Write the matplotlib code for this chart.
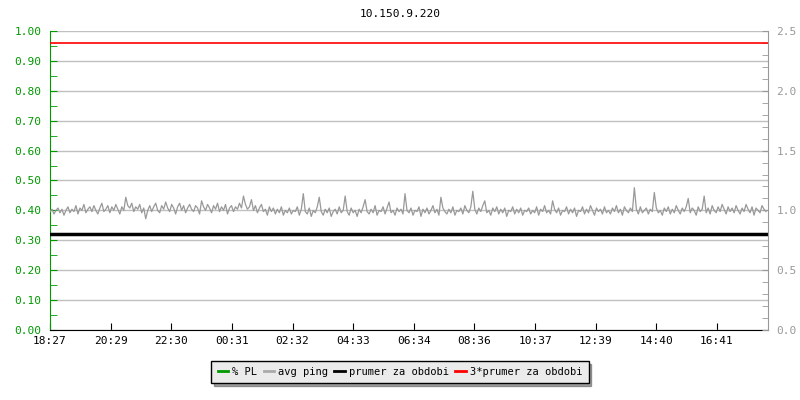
import numpy as np
import matplotlib
matplotlib.use("Agg")
import matplotlib.pyplot as plt
from matplotlib.lines import Line2D

title = "10.150.9.220"
time_labels = ["18:27", "20:29", "22:30", "00:31", "02:32", "04:33",
               "06:34", "08:36", "10:37", "12:39", "14:40", "16:41"]
tick_step_min = 121.27   # minutes between time labels
span_min = 1436          # whole window in minutes

# avg ping, one sample every 4 minutes (right axis units)
avg_ping = [
    0.99, 1.01, 0.97, 1.00, 1.02, 0.98, 1.01, 0.96, 1.00, 1.03, 0.98, 1.01, 0.99, 1.04, 0.97, 1.02, 1.00, 1.05, 0.98, 1.01,
    1.03, 0.99, 1.04, 1.00, 0.97, 1.02, 1.06, 0.99, 1.01, 1.04, 0.98, 1.03, 1.00, 1.05, 1.01, 0.97, 1.03, 1.00, 1.11, 1.04,
    1.02, 1.06, 0.99, 1.03, 1.01, 1.05, 0.98, 1.02, 0.93, 1.00, 1.04, 0.99, 1.03, 1.06, 1.00, 0.98, 1.04, 1.01, 1.07, 1.02,
    0.99, 1.05, 1.02, 0.97, 1.03, 1.06, 1.00, 1.04, 0.98, 1.02, 1.05, 1.01, 0.99, 1.04, 1.02, 0.97, 1.08, 1.03, 1.00, 1.05,
    1.02, 0.98, 1.04, 1.01, 1.06, 0.99, 1.03, 1.00, 1.05, 0.97, 1.02, 1.04, 0.99, 1.03, 1.01, 1.06, 1.02, 1.12, 1.05, 1.01,
    1.03, 1.09, 1.00, 1.04, 0.98, 1.02, 1.05, 0.99, 1.01, 0.96, 1.03, 0.99, 1.02, 0.97, 1.01, 0.98, 1.03, 0.96, 1.00, 0.98,
    1.02, 0.97, 1.00, 0.99, 1.03, 0.96, 1.01, 1.14, 0.99, 0.97, 1.02, 0.95, 1.00, 0.98, 1.03, 1.11, 0.99, 0.96, 1.01, 0.98,
    1.02, 0.95, 0.99, 1.01, 0.97, 1.03, 0.98, 1.00, 1.12, 0.99, 0.96, 1.02, 0.98, 1.00, 0.95, 1.01, 0.98, 1.03, 1.09, 0.99,
    0.97, 1.01, 0.98, 1.04, 0.96, 1.00, 0.99, 1.03, 0.97, 1.02, 1.07, 0.98, 1.00, 0.96, 1.02, 0.99, 1.01, 0.97, 1.14, 1.00,
    0.98, 1.02, 0.96, 1.00, 0.99, 1.03, 0.95, 1.01, 0.98, 1.02, 0.97, 1.00, 1.04, 0.98, 1.01, 0.96, 1.11, 1.02, 0.99, 0.97,
    1.01, 0.98, 1.03, 0.96, 1.00, 0.99, 1.02, 0.97, 1.04, 1.00, 0.98, 1.03, 1.16, 1.01, 0.97, 1.02, 0.99, 1.04, 1.08, 0.98,
    1.00, 0.96, 1.02, 0.99, 1.03, 0.97, 1.01, 0.98, 1.02, 0.95, 1.00, 0.99, 1.03, 0.97, 1.01, 0.98, 1.02, 0.96, 1.00, 0.99,
    1.02, 0.97, 1.00, 0.98, 1.03, 0.96, 1.01, 0.99, 1.04, 0.98, 1.00, 0.97, 1.08, 1.01, 0.98, 1.02, 0.96, 1.00, 0.99, 1.03,
    0.97, 1.01, 0.98, 1.02, 0.95, 1.00, 0.99, 1.03, 0.97, 1.01, 0.98, 1.04, 1.00, 0.96, 1.02, 0.99, 1.01, 0.97, 1.03, 0.98,
    1.00, 0.97, 1.02, 0.99, 1.04, 0.98, 1.01, 0.96, 1.03, 1.00, 0.98, 1.02, 0.99, 1.19, 1.01, 0.97, 1.03, 0.98, 1.00, 1.02,
    0.97, 1.01, 0.99, 1.15, 1.02, 0.98, 1.00, 0.96, 1.02, 0.99, 1.03, 0.97, 1.01, 0.98, 1.04, 1.00, 0.97, 1.02, 0.99, 1.03,
    1.10, 0.98, 1.02, 1.00, 0.96, 1.03, 0.99, 1.01, 1.12, 0.98, 1.02, 0.97, 1.04, 1.00, 0.98, 1.03, 0.99, 1.05, 1.01, 0.97,
    1.03, 0.99, 1.02, 0.98, 1.04, 1.00, 0.97, 1.02, 0.99, 1.05, 1.01, 0.98, 1.03, 0.96, 1.02, 1.00, 0.98, 1.04, 1.01, 0.99,
]
avg_period = 0.8     # prumer za obdobi
avg_period_x3 = 2.4  # 3*prumer za obdobi

GREEN = "#009900"
GRAY = "#999999"
GRID = "#c0c0c0"

plt.rcParams["font.family"] = "DejaVu Sans Mono"
plt.rcParams["font.size"] = 7.5
plt.rcParams["path.simplify"] = False   # keep every jitter of the ping line

fig = plt.figure(figsize=(8, 4), dpi=100)
ax = fig.add_axes([0.0625, 0.175, 0.8975, 0.7475])
ax2 = ax.twinx()

t = np.arange(len(avg_ping)) * (span_min / len(avg_ping))

ax2.plot(t, avg_ping, color=GRAY, lw=0.9)
ax2.axhline(avg_period, color="black", lw=2.5)
ax2.axhline(avg_period_x3, color="red", lw=1.2)

ax.set_xlim(0, span_min)
ax.set_ylim(0, 1.0)
ax2.set_ylim(0, 2.5)

ax.set_xticks(np.arange(len(time_labels)) * tick_step_min)
ax.set_xticklabels(time_labels, color="black", fontsize=8)
left_vals = np.arange(0, 1.01, 0.1)
ax.set_yticks(left_vals)
ax.set_yticklabels([f"{v:.2f}" for v in left_vals], color=GREEN, fontsize=8)
ax.set_yticks(np.arange(0.05, 1.0, 0.1), minor=True)
ax.grid(axis="y", color=GRID, lw=1)
ax.set_axisbelow(True)

right_vals = np.arange(0, 2.51, 0.5)
ax2.set_yticks(right_vals)
ax2.set_yticklabels([f"{v:.1f}" for v in right_vals], color=GRAY, fontsize=8)
ax2.set_yticks(np.arange(0, 2.51, 0.1), minor=True)

ax.tick_params(axis="x", direction="in", length=5, color="black", pad=4)
ax.tick_params(axis="y", which="both", direction="in", length=5, color=GREEN, pad=6)
ax2.tick_params(axis="y", which="both", direction="in", length=4, color=GRAY, pad=6)

for a in (ax, ax2):
    a.spines["top"].set_visible(False)
ax2.spines["left"].set_visible(False)
ax2.spines["bottom"].set_visible(False)
ax.spines["right"].set_visible(False)
ax.spines["left"].set_color(GREEN)
ax.spines["bottom"].set_color("black")
ax2.spines["right"].set_color(GRAY)

fig.text(0.5, 0.965, title, ha="center", va="center", fontsize=8)

handles = [Line2D([], [], color=GREEN, lw=2),
           Line2D([], [], color="#aaaaaa", lw=2),
           Line2D([], [], color="black", lw=2),
           Line2D([], [], color="red", lw=2)]
names = ["% PL", "avg ping", "prumer za obdobi", "3*prumer za obdobi"]
leg = fig.legend(handles, names, loc="center", bbox_to_anchor=(0.5, 0.07),
                 ncol=4, frameon=True, fancybox=False, shadow=True,
                 handlelength=1.0, handletextpad=0.4, columnspacing=0.6,
                 borderpad=0.6, fontsize=7.5)
leg.get_frame().set_facecolor("#ebebeb")
leg.get_frame().set_edgecolor("black")
leg.get_frame().set_alpha(1)

fig.savefig("out.png", dpi=100)
